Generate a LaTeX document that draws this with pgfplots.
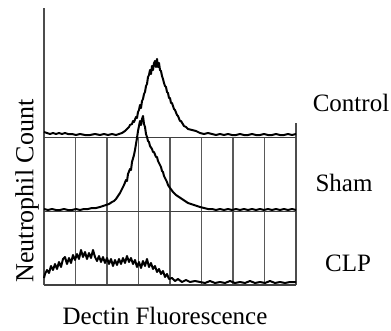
\documentclass[border=0pt]{standalone}
\usepackage{pgfplots}
\pgfplotsset{compat=1.18}
\usepackage{fontspec}
\setmainfont{Liberation Serif}
\begin{document}
\begin{tikzpicture}[x=1pt,y=1pt]
\path[use as bounding box] (0,0) rectangle (391,330);
\begin{axis}[at={(44pt,45pt)}, anchor=south west, scale only axis,
  width=252pt, height=277pt, xmin=44, xmax=296, ymin=0, ymax=277,
  axis lines=none, clip=false]
% frame and grid
\draw[black!70, line width=1.3pt] (axis cs:44,0) -- (axis cs:44,277);
\draw[black!70, line width=1.3pt] (axis cs:296,0) -- (axis cs:296,162);
\foreach \xx in {75.5,107,138.5,170,201.5,233,264.5}{
  \edef\tmp{\noexpand\draw[black!65, line width=1.3pt] (axis cs:\xx,0) -- (axis cs:\xx,147.5);}\tmp
}
\draw[black!75, line width=1.3pt] (axis cs:44,147.5) -- (axis cs:296,147.5);
\draw[black!75, line width=1.3pt] (axis cs:44,73.5) -- (axis cs:296,73.5);
\draw[black!75, line width=1.3pt] (axis cs:44,0) -- (axis cs:296,0);
% Control
\addplot[black, line width=2pt, line join=round] coordinates {
(44,153)(47,152)(50,151)(53,152)(56,151)(59,152)(62,151)(65,152)(68,151)(72,151)(76,150)(80,151)(85,150)(90,150)(95,151)(100,150)(104,151)(108,150)(112,151)(116,150)(119,151)(122,152)(125,154)(127,156)(129,158)(130,160)(132,161)(133,164)(134,163)(136,168)(137,167)(138,173)(139,175)(140,180)(141,177)(142,184)(143,186)(144,191)(145,193)(146,199)(147,201)(148,208)(149,210)(150,215)(151,211)(152,219)(153,215)(154,222)(155,224)(156,218)(157,226)(158,218)(159,222)(160,215)(161,214)(162,209)(163,206)(164,202)(165,199)(166,198)(167,193)(168,192)(169,187)(170,187)(171,182)(172,182)(174,176)(175,175)(177,170)(178,169)(180,164)(181,164)(184,159)(186,158)(188,156)(192,155)(196,154)(200,152)(204,151)(208,152)(212,151)(216,150)(220,151)(224,150)(228,151)(232,150)(236,150)(240,151)(244,150)(248,150)(252,151)(256,150)(260,150)(264,151)(268,150)(272,150)(276,151)(280,150)(284,150)(288,151)(292,150)(296,151)
};
% Sham
\addplot[black, line width=2pt, line join=round] coordinates {
(44,76)(48,75)(52,76)(56,75)(60,75)(64,76)(68,75)(72,75)(76,76)(80,75)(84,76)(88,76)(92,77)(96,77)(100,78)(103,79)(106,80)(109,81)(112,83)(114,84)(116,86)(118,89)(120,92)(122,96)(124,100)(126,105)(127,104)(128,111)(130,116)(131,115)(132,123)(134,130)(135,135)(136,141)(137,147)(138,154)(139,159)(140,164)(141,160)(142,166)(143,169)(144,161)(145,158)(146,151)(147,148)(148,144)(149,143)(150,139)(152,136)(153,133)(154,133)(156,128)(157,128)(158,124)(160,120)(161,118)(162,114)(163,113)(164,109)(166,105)(167,103)(168,100)(170,97)(173,93)(176,90)(179,88)(182,86)(185,84)(188,82)(191,81)(194,80)(197,79)(200,78)(204,77)(208,76)(212,76)(216,75)(220,76)(224,75)(228,76)(232,75)(236,76)(240,75)(244,76)(248,75)(252,76)(256,75)(260,76)(264,75)(268,76)(272,75)(276,76)(280,75)(284,76)(288,75)(292,76)(296,75)
};
% CLP
\addplot[black, line width=2pt, line join=round] coordinates {
(44,7)(45,11)(47,15)(49,12)(51,19)(53,15)(55,21)(57,16)(59,23)(61,18)(63,26)(65,28)(67,21)(69,27)(71,22)(73,30)(75,25)(77,31)(79,26)(81,35)(83,28)(85,33)(87,26)(89,32)(91,27)(93,35)(95,28)(97,24)(99,29)(101,23)(103,28)(105,22)(107,27)(109,21)(111,26)(113,19)(115,25)(117,20)(119,26)(121,21)(123,27)(125,22)(127,29)(129,23)(131,27)(133,21)(135,25)(137,18)(139,23)(141,17)(143,24)(145,19)(147,26)(149,18)(151,22)(153,16)(155,19)(157,13)(159,16)(161,11)(163,14)(165,8)(167,11)(169,6)(172,7)(175,4)(178,6)(182,3)(186,5)(190,3)(195,4)(200,3)(205,2)(210,4)(215,2)(220,3)(225,2)(230,4)(235,2)(240,3)(245,2)(250,4)(255,2)(260,3)(265,2)(270,4)(275,2)(280,3)(285,2)(290,3)(296,3)
};
\end{axis}
\node[font=\fontsize{25}{30}\selectfont] at (351,227) {Control};
\node[font=\fontsize{25}{30}\selectfont] at (344,147) {Sham};
\node[font=\fontsize{25}{30}\selectfont] at (348,67) {CLP};
\node[font=\fontsize{25}{30}\selectfont] at (165,14) {Dectin Fluorescence};
\node[font=\fontsize{26}{30}\selectfont, rotate=90] at (27,139) {Neutrophil Count};
\end{tikzpicture}
\end{document}
